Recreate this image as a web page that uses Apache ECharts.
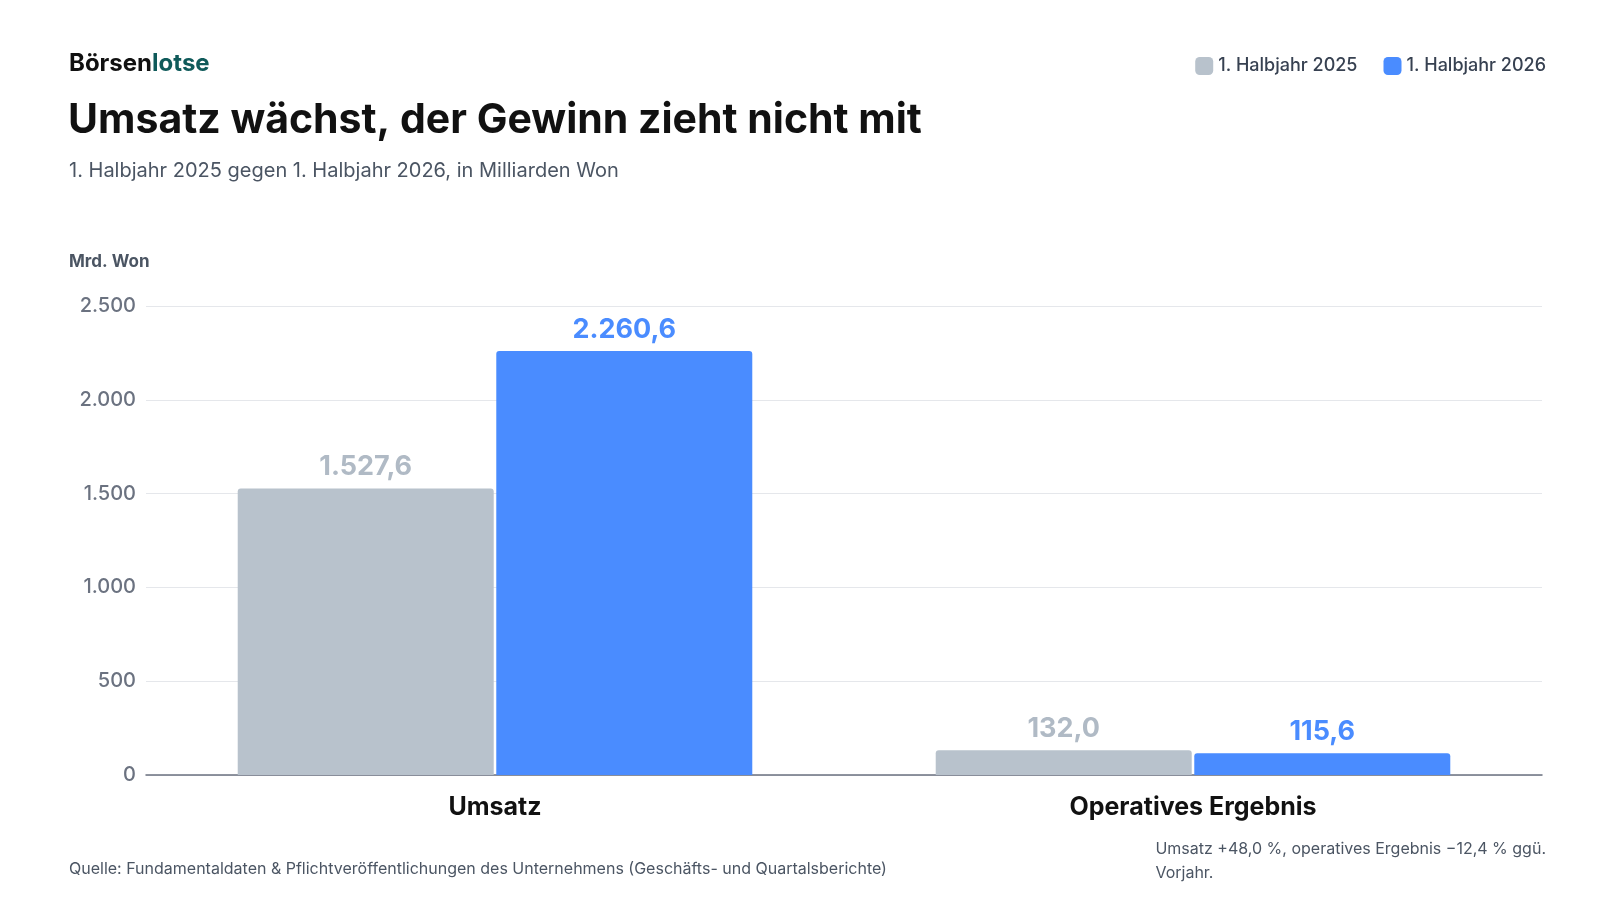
<!DOCTYPE html>
<html><head><meta charset="utf-8">
<script src="https://cdn.jsdelivr.net/npm/echarts@6/dist/echarts.min.js"></script>
<style>html,body{margin:0;padding:0;background:#fff}#c{width:1600px;height:900px}</style>
</head><body><div id="c"></div>
<script>
var categories = ['Umsatz', 'Operatives Ergebnis']
var seriesNames = ['1. Halbjahr 2025', '1. Halbjahr 2026']
var values2025 = [1527.6, 132.0]
var values2026 = [2260.6, 115.6]
var colors = ['#b8c2cc', '#4a8cff']

var font = 'Inter, "Noto Sans", sans-serif'
function fmt(v) {
  return v.toLocaleString('de-DE', { minimumFractionDigits: 1, maximumFractionDigits: 1 })
}
function fmtAxis(v) {
  return v.toLocaleString('de-DE')
}

var chart = echarts.init(document.getElementById('c'))
chart.setOption({
  textStyle: { fontFamily: font },
  title: [
    {
      left: 64, top: 47,
      text: '{a|Börsen}{b|lotse}',
      textStyle: { rich: {
        a: { fontSize: 24, fontWeight: 'bold', color: '#111', fontFamily: font },
        b: { fontSize: 24, fontWeight: 'bold', color: '#0f5a5a', fontFamily: font }
      } }
    },
    { left: 63, top: 95, text: 'Umsatz wächst, der Gewinn zieht nicht mit',
      textStyle: { fontSize: 41, fontWeight: 'bold', color: '#111', fontFamily: font } },
    { left: 64, top: 156, text: '1. Halbjahr 2025 gegen 1. Halbjahr 2026, in Milliarden Won',
      textStyle: { fontSize: 20, fontWeight: 'normal', color: '#4b5563', fontFamily: font } },
    { left: 64, top: 248, text: 'Mrd. Won',
      textStyle: { fontSize: 17, fontWeight: 'bold', color: '#4b5563', fontFamily: font } },
    { left: 64, top: 856, text: 'Quelle: Fundamentaldaten & Pflichtveröffentlichungen des Unternehmens (Geschäfts- und Quartalsberichte)',
      textStyle: { fontSize: 16, fontWeight: 'normal', color: '#4b5563', fontFamily: font } },
    { right: 49, top: 832, text: 'Umsatz +48,0 %, operatives Ergebnis \u221212,4 % ggü.\nVorjahr.',
      textStyle: { fontSize: 16, fontWeight: 'normal', color: '#4b5563', lineHeight: 24, align: 'right', fontFamily: font } }
  ],
  legend: {
    right: 49, top: 52, itemWidth: 18, itemHeight: 18, itemGap: 26,
    icon: 'roundRect',
    textStyle: { fontSize: 18, color: '#374151', fontFamily: font, fontWeight: 500 },
    data: seriesNames
  },
  grid: { left: 146, right: 58, top: 306, bottom: 125 },
  xAxis: {
    type: 'category', data: categories,
    axisTick: { show: false },
    axisLine: { lineStyle: { color: '#6b7280', width: 1.5 } },
    axisLabel: { fontSize: 25, fontWeight: 'bold', color: '#111', margin: 20 }
  },
  yAxis: {
    type: 'value', min: 0, max: 2500, interval: 500,
    axisLabel: { fontSize: 20, fontWeight: 500, color: '#6b7280', margin: 10, formatter: fmtAxis },
    splitLine: { lineStyle: { color: '#e5e7eb' } }
  },
  series: [
    { name: seriesNames[0], type: 'bar', data: values2025, barWidth: 256, barGap: '1%',
      itemStyle: { color: colors[0], borderRadius: [3, 3, 0, 0] },
      label: { show: true, position: 'top', distance: 8, fontSize: 27, fontWeight: 'bold', color: '#b0bac5',
        formatter: function (p) { return fmt(p.value) } } },
    { name: seriesNames[1], type: 'bar', data: values2026, barWidth: 256,
      itemStyle: { color: colors[1], borderRadius: [3, 3, 0, 0] },
      label: { show: true, position: 'top', distance: 8, fontSize: 27, fontWeight: 'bold', color: '#4a8cff',
        formatter: function (p) { return fmt(p.value) } } }
  ]
})
</script></body></html>
